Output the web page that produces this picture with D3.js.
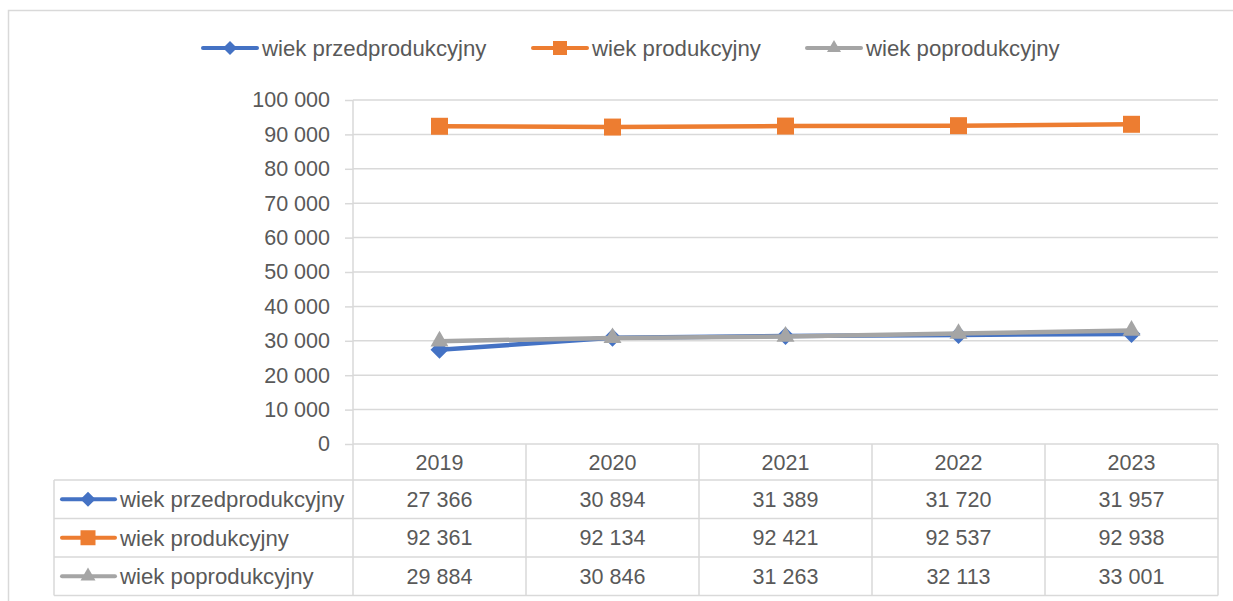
<!DOCTYPE html>
<html>
<head>
<meta charset="utf-8">
<script src="https://cdn.jsdelivr.net/npm/d3@7"></script>
<style>
  body { margin: 0; background: #fff; }
  svg text { font-family: "Liberation Sans", Arial, sans-serif; fill: #595959; }
</style>
</head>
<body>
<div id="chart"></div>
<script>
const years = ['2019', '2020', '2021', '2022', '2023']
const seriesNames = ['wiek przedprodukcyjny', 'wiek produkcyjny', 'wiek poprodukcyjny']
const przed = [27366, 30894, 31389, 31720, 31957]
const prod = [92361, 92134, 92421, 92537, 92938]
const popr = [29884, 30846, 31263, 32113, 33001]
const yTicks = [0, 10000, 20000, 30000, 40000, 50000, 60000, 70000, 80000, 90000, 100000]

const series = [
  { name: seriesNames[0], values: przed, color: '#4472C4', symbol: 'diamond' },
  { name: seriesNames[1], values: prod, color: '#ED7D31', symbol: 'square' },
  { name: seriesNames[2], values: popr, color: '#A5A5A5', symbol: 'triangle' },
]

const fmt = v => d3.format(',')(v).replace(/,/g, ' ')
const grid = '#d9d9d9'

const W = 1233, H = 601
const plot = { left: 353, right: 1218, top: 100, bottom: 444 }
const table = { left: 54, headerBottom: 480, rowH: 38.5 }

const svg = d3.select('#chart').append('svg').attr('width', W).attr('height', H)

// outer frame
svg.append('rect').attr('x', 8.5).attr('y', 10.5).attr('width', W).attr('height', H)
  .attr('fill', 'none').attr('stroke', grid).attr('stroke-width', 1.5)

const x = d3.scaleBand().domain(years).range([plot.left, plot.right])
const y = d3.scaleLinear().domain([0, 100000]).range([plot.bottom, plot.top])

function marker(g, type, size) {
  if (type === 'square') {
    return g.append('path').attr('d', d3.symbol(d3.symbolSquare, size * size)())
  }
  if (type === 'diamond') {
    const s = size / Math.SQRT2
    return g.append('path').attr('d', d3.symbol(d3.symbolSquare, s * s)()).attr('transform', 'rotate(45)')
  }
  return g.append('path').attr('d', d3.symbol(d3.symbolTriangle, Math.sqrt(3) / 4 * size * size)())
}

// gridlines + y axis
const yAxis = svg.append('g').attr('transform', `translate(${plot.left},0)`)
  .call(d3.axisLeft(y).tickValues(yTicks).tickFormat(fmt).tickSize(8).tickPadding(15))
yAxis.select('.domain').remove()
yAxis.selectAll('line').attr('stroke', grid).attr('stroke-width', 1.5)
yAxis.selectAll('text').attr('font-size', '21.5px').attr('fill', '#595959')
  .attr('font-family', '"Liberation Sans", Arial, sans-serif')

svg.append('g').selectAll('line').data(yTicks).join('line')
  .attr('x1', plot.left).attr('x2', plot.right)
  .attr('y1', d => y(d)).attr('y2', d => y(d))
  .attr('stroke', grid).attr('stroke-width', 1.5)

// data table
const rowsBottom = table.headerBottom + table.rowH * series.length
const t = svg.append('g')
// vertical separators
const bounds = years.map(d => x(d)).concat([plot.right])
t.selectAll('line.v').data(bounds).join('line').attr('class', 'v')
  .attr('x1', d => d).attr('x2', d => d)
  .attr('y1', (d, i) => i === 0 ? plot.top : plot.bottom).attr('y2', rowsBottom)
  .attr('stroke', grid).attr('stroke-width', 1.5)
// left edge of legend column
t.append('line').attr('x1', table.left).attr('x2', table.left)
  .attr('y1', table.headerBottom).attr('y2', rowsBottom)
  .attr('stroke', grid).attr('stroke-width', 1.5)
// horizontal row lines
const hLines = d3.range(series.length + 1).map(i => table.headerBottom + i * table.rowH)
t.selectAll('line.h').data(hLines).join('line').attr('class', 'h')
  .attr('x1', table.left).attr('x2', plot.right)
  .attr('y1', d => d).attr('y2', d => d)
  .attr('stroke', grid).attr('stroke-width', 1.5)

// header years
t.selectAll('text.yr').data(years).join('text').attr('class', 'yr')
  .attr('x', d => x(d) + x.bandwidth() / 2)
  .attr('y', (plot.bottom + table.headerBottom) / 2)
  .attr('dy', '0.35em').attr('text-anchor', 'middle').attr('font-size', '21.5px')
  .text(d => d)

series.forEach((s, i) => {
  const cy = table.headerBottom + table.rowH * (i + 0.5)
  const key = t.append('g').attr('transform', `translate(0,${cy})`)
  key.append('line').attr('x1', 62).attr('x2', 115).attr('stroke', s.color)
    .attr('stroke-width', 4).attr('stroke-linecap', 'round')
  marker(key.append('g').attr('transform', 'translate(88,0)'), s.symbol, 15).attr('fill', s.color)
  key.append('text').attr('x', 120).attr('dy', '0.35em').attr('font-size', '22.2px').text(s.name)
  t.selectAll(null).data(s.values).join('text')
    .attr('x', (d, j) => x(years[j]) + x.bandwidth() / 2)
    .attr('y', cy).attr('dy', '0.35em').attr('text-anchor', 'middle').attr('font-size', '21.5px')
    .text(fmt)
})

// lines
const line = d3.line().x((d, i) => x(years[i]) + x.bandwidth() / 2).y(d => y(d))
series.forEach(s => {
  const g = svg.append('g')
  g.append('path').datum(s.values).attr('d', line)
    .attr('fill', 'none').attr('stroke', s.color).attr('stroke-width', 4.5).attr('stroke-linejoin', 'round')
  s.values.forEach((v, i) => {
    const m = g.append('g').attr('transform', `translate(${x(years[i]) + x.bandwidth() / 2},${y(v)})`)
    marker(m, s.symbol, s.symbol === 'square' ? 17 : 18).attr('fill', s.color)
  })
})

// legend
const legendPos = [203, 533, 807]
series.forEach((s, i) => {
  const g = svg.append('g').attr('transform', `translate(${legendPos[i]},48)`)
  g.append('line').attr('x1', 0).attr('x2', 54).attr('stroke', s.color)
    .attr('stroke-width', 4).attr('stroke-linecap', 'round')
  marker(g.append('g').attr('transform', 'translate(27,0)'), s.symbol, 14).attr('fill', s.color)
  g.append('text').attr('x', 59).attr('dy', '0.35em').attr('font-size', '22.2px').text(s.name)
})
</script>
</body>
</html>
